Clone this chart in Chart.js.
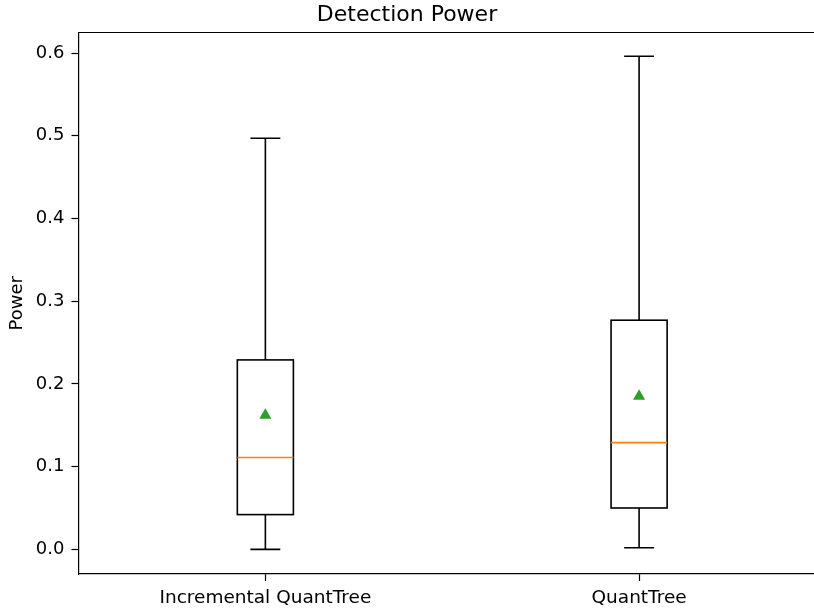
<!DOCTYPE html>
<html>
<head>
<meta charset="utf-8">
<title>Detection Power</title>
<script src="https://cdn.jsdelivr.net/npm/chart.js@4.4.0/dist/chart.umd.min.js"></script>
<style>
  html, body { margin: 0; padding: 0; background: #fff; overflow: hidden; }
</style>
</head>
<body>
<canvas id="power_chart" width="814" height="610"></canvas>
<script>
// box plot statistics per method
var categories = ['Incremental QuantTree', 'QuantTree'];
var positions = [1, 2];
var whiskerLow = [0.000, 0.002];
var q1 = [0.042, 0.050];
var median = [0.111, 0.129];
var q3 = [0.229, 0.277];
var whiskerHigh = [0.497, 0.596];
var means = [0.162, 0.185];
var yTicks = [0.0, 0.1, 0.2, 0.3, 0.4, 0.5, 0.6];

var FONT = 'DejaVu Sans';

// boxes, whiskers and medians drawn below the mean markers
var boxPlot = {
    id: 'boxPlot',
    beforeDatasetsDraw: function (chart, args, opts) {
        var ctx = chart.ctx;
        var x = chart.scales.x, y = chart.scales.y;
        ctx.save();
        ctx.lineWidth = opts.lineWidth;
        for (var i = 0; i < positions.length; i++) {
            var cx = x.getPixelForValue(positions[i]);
            var left = x.getPixelForValue(positions[i] - opts.boxWidth / 2);
            var right = x.getPixelForValue(positions[i] + opts.boxWidth / 2);
            var capL = x.getPixelForValue(positions[i] - opts.capWidth / 2);
            var capR = x.getPixelForValue(positions[i] + opts.capWidth / 2);
            var yq1 = y.getPixelForValue(q1[i]);
            var yq3 = y.getPixelForValue(q3[i]);
            var ylo = y.getPixelForValue(whiskerLow[i]);
            var yhi = y.getPixelForValue(whiskerHigh[i]);
            var ymed = y.getPixelForValue(median[i]);

            ctx.strokeStyle = '#000';
            ctx.beginPath();
            // whiskers
            ctx.moveTo(cx, yq1); ctx.lineTo(cx, ylo);
            ctx.moveTo(cx, yq3); ctx.lineTo(cx, yhi);
            // caps
            ctx.moveTo(capL, ylo); ctx.lineTo(capR, ylo);
            ctx.moveTo(capL, yhi); ctx.lineTo(capR, yhi);
            ctx.stroke();
            ctx.strokeRect(left, yq3, right - left, yq1 - yq3);

            ctx.strokeStyle = '#ff7f0e';
            ctx.beginPath();
            ctx.moveTo(left, ymed); ctx.lineTo(right, ymed);
            ctx.stroke();
        }
        ctx.restore();
    }
};

// top spine (the right one falls outside the canvas)
var frame = {
    id: 'frame',
    afterDraw: function (chart) {
        var a = chart.chartArea, ctx = chart.ctx;
        ctx.save();
        ctx.strokeStyle = '#000';
        ctx.lineWidth = 1.2;
        ctx.beginPath();
        ctx.moveTo(a.left, a.top); ctx.lineTo(a.right, a.top);
        ctx.stroke();
        ctx.restore();
    }
};

new Chart('power_chart', {
    type: 'scatter',
    data: {
        datasets: [{
            label: 'mean',
            data: means.map(function (m, i) { return { x: positions[i], y: m }; }),
            pointStyle: 'triangle',
            radius: 7,
            backgroundColor: '#2ca02c',
            borderColor: '#2ca02c',
            borderWidth: 0
        }]
    },
    options: {
        responsive: false,
        animation: false,
        layout: { padding: 0, autoPadding: false },
        plugins: {
            legend: { display: false },
            tooltip: { enabled: false },
            title: {
                display: true,
                text: 'Detection Power',
                color: '#000',
                font: { family: FONT, size: 22, weight: 'normal', lineHeight: 1.2 },
                padding: { top: 2, bottom: 4.1 }
            },
            boxPlot: { boxWidth: 0.15, capWidth: 0.08, lineWidth: 1.6 }
        },
        scales: {
            x: {
                type: 'linear',
                min: 0.5,
                max: 2.468,
                afterBuildTicks: function (s) {
                    s.ticks = positions.map(function (v) { return { value: v }; });
                },
                afterFit: function (s) {
                    s.height = 36;
                    s.paddingLeft = 0;
                    s.paddingRight = 0;
                },
                ticks: {
                    color: '#000',
                    font: { family: FONT, size: 18.5 },
                    padding: 6,
                    maxRotation: 0,
                    autoSkip: false,
                    callback: function (v) { return categories[positions.indexOf(v)]; }
                },
                grid: { drawOnChartArea: false, drawTicks: true, tickLength: 7, tickColor: '#000', tickWidth: 1.2 },
                border: { display: true, color: '#000', width: 1.2 }
            },
            y: {
                type: 'linear',
                min: -0.0298,
                max: 0.6248,
                afterBuildTicks: function (s) {
                    s.ticks = yTicks.map(function (v) { return { value: v }; });
                },
                afterFit: function (s) {
                    s.width = 78.5;
                    s.paddingTop = 0;
                    s.paddingBottom = 0;
                },
                ticks: {
                    color: '#000',
                    font: { family: FONT, size: 18 },
                    padding: 7,
                    callback: function (v) { return v.toFixed(1); }
                },
                title: {
                    display: true,
                    text: 'Power',
                    color: '#000',
                    font: { family: FONT, size: 18, lineHeight: 1.2 },
                    padding: { top: 7, bottom: 0 }
                },
                grid: { drawOnChartArea: false, drawTicks: true, tickLength: 7, tickColor: '#000', tickWidth: 1.2 },
                border: { display: true, color: '#000', width: 1.2 }
            }
        }
    },
    plugins: [boxPlot, frame]
});
</script>
</body>
</html>
